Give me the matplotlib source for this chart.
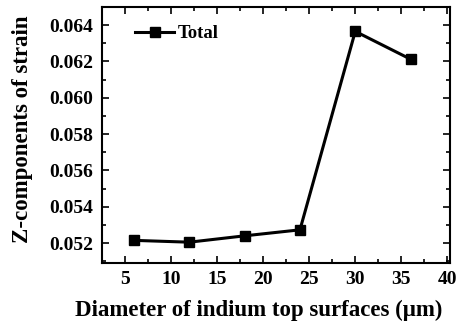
import numpy as np
import matplotlib.pyplot as plt
from matplotlib.ticker import MultipleLocator, FormatStrFormatter

# data
diameter = [6, 12, 18, 24, 30, 36]
strain_z = [0.05215, 0.05205, 0.0524, 0.05273, 0.06365, 0.06212]

plt.rcParams['font.family'] = ['Liberation Serif', 'DejaVu Serif']
plt.rcParams['font.weight'] = 'bold'

fig = plt.figure(figsize=(4.67, 3.26), dpi=100)
ax = fig.add_axes([0.218, 0.193, 0.746, 0.786])

ax.plot(diameter, strain_z, color='black', lw=2.2, marker='s', ms=7,
        label='Total')

ax.set_xlim(2.5, 40.3)
ax.set_ylim(0.0509, 0.065)
ax.xaxis.set_major_locator(MultipleLocator(5))
ax.xaxis.set_minor_locator(MultipleLocator(2.5))
ax.yaxis.set_major_locator(MultipleLocator(0.002))
ax.yaxis.set_minor_locator(MultipleLocator(0.001))
ax.yaxis.set_major_formatter(FormatStrFormatter('%.3f'))

ax.tick_params(which='both', direction='in', top=True, right=True,
               labelsize=14, width=1.2)
ax.tick_params(which='major', length=5, pad=6)
ax.tick_params(which='minor', length=3)
for lab in ax.get_xticklabels() + ax.get_yticklabels():
    lab.set_fontweight('bold')
for s in ax.spines.values():
    s.set_linewidth(1.5)

ax.set_xlabel('Diameter of indium top surfaces (\u03bcm)', fontsize=16.5,
              fontweight='bold')
ax.set_ylabel('Z-components of strain', fontsize=16.5, fontweight='bold')
ax.xaxis.set_label_coords(0.451, -0.145)
ax.yaxis.set_label_coords(-0.198, 0.523)

ax.legend(loc='center left', bbox_to_anchor=(0.095, 0.895), frameon=False,
          prop={'weight': 'bold', 'size': 13.5}, handlelength=2.1,
          handletextpad=0.2, borderpad=0, borderaxespad=0)

fig.savefig('out.png', dpi=100)
